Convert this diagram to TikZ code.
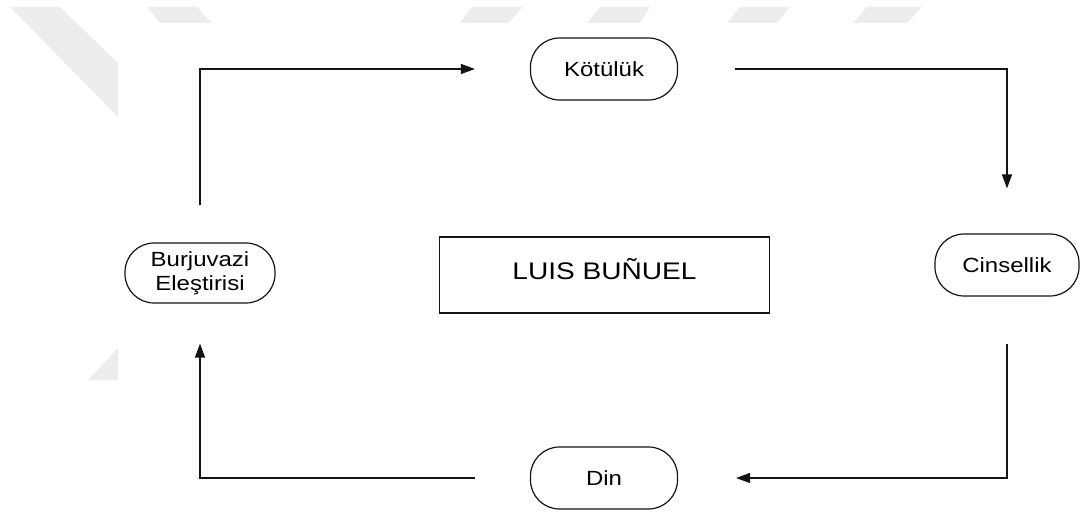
\documentclass[tikz,border=0pt]{standalone}
\usepackage{fontspec}
\setmainfont{Liberation Sans}[FakeStretch=1.17]
\usetikzlibrary{arrows.meta}
\definecolor{wm}{RGB}{237,237,237}
\definecolor{ink}{RGB}{20,20,20}
\begin{document}
\begin{tikzpicture}[x=1pt,y=-1pt,
  stage/.style={draw=ink, line width=1.2pt, rounded corners=29pt,
    minimum width=147pt, minimum height=62pt, inner sep=0pt, align=center,
    font=\fontsize{20.5pt}{24pt}\selectfont},
  titlebox/.style={draw=ink, line width=1.4pt, minimum width=330pt,
    minimum height=76pt, inner sep=0pt, text height=17pt, text depth=8pt,
    font=\fontsize{24pt}{28pt}\selectfont},
  flow/.style={draw=ink, line width=1.2pt, -{Triangle[length=14pt,width=10pt]}},
  wmark/.style={fill=wm, draw=none}]
\useasboundingbox (0,0) rectangle (1080,513);

% faint background marks
\fill[wmark] (10,7) -- (60,7) -- (118,63) -- (118,117) -- cycle;
\fill[wmark] (88,380) -- (118,348) -- (118,380) -- cycle;
\fill[wmark] (147,7) -- (197,7) -- (212,23) -- (160,23) -- cycle;
\fill[wmark] (472,7) -- (523,7) -- (508,23) -- (460,23) -- cycle;
\fill[wmark] (600,7) -- (650,7) -- (640,23) -- (587,23) -- cycle;
\fill[wmark] (740,7) -- (790,7) -- (777,23) -- (727,23) -- cycle;
\fill[wmark] (867,7) -- (922,7) -- (907,23) -- (853,23) -- cycle;

% stages around the centre
\node[stage] (kot) at (604,69) {Kötülük};
\node[stage, minimum width=144pt] (cin) at (1007,265) {Cinsellik};
\node[stage] (din) at (604,478) {Din};
\node[stage, minimum width=150pt, minimum height=60pt] (bur) at (200,273) {Burjuvazi\\Eleştirisi};
\node[titlebox] (luis) at (604.5,275) {LUIS BUÑUEL};

% loose ends of the cycle arrows
\coordinate (p1) at ([yshift=37pt]bur.north);
\coordinate (p2) at ([xshift=-55pt]kot.west);
\coordinate (p3) at ([xshift=57pt]kot.east);
\coordinate (p4) at ([yshift=45pt]cin.north);
\coordinate (p5) at ([yshift=-47pt]cin.south);
\coordinate (p6) at ([xshift=58pt]din.east);
\coordinate (p7) at ([xshift=-55pt]din.west);
\coordinate (p8) at ([yshift=-40pt]bur.south);

\draw[flow] (p1) |- (p2);
\draw[flow] (p3) -| (p4);
\draw[flow] (p5) |- (p6);
\draw[flow] (p7) -| (p8);
\end{tikzpicture}
\end{document}
